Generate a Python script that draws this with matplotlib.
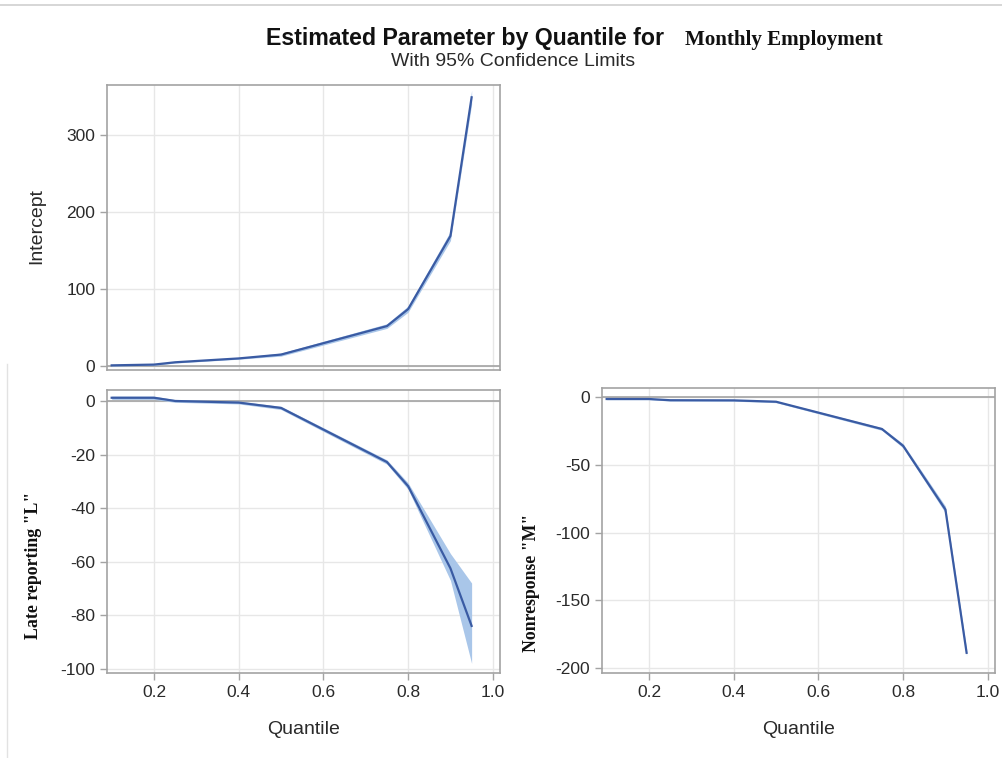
import matplotlib
matplotlib.use('Agg')
import matplotlib.pyplot as plt
from matplotlib.lines import Line2D

# quantile regression estimates
quantiles = [0.1, 0.2, 0.25, 0.4, 0.5, 0.75, 0.8, 0.9, 0.95]

intercept = [1, 2, 5, 10, 15, 52, 74, 169, 349]
intercept_lo = [0, 1, 4, 9, 13, 49, 70, 163, 340]
intercept_hi = [2, 3, 6, 11, 17, 55, 78, 175, 358]

late = [1.2, 1.2, 0.0, -0.6, -2.6, -22.8, -31.8, -62.5, -84.0]
late_lo = [0.6, 0.6, -0.5, -1.1, -3.2, -23.6, -33.0, -67.0, -98.0]
late_hi = [1.8, 1.8, 0.5, -0.1, -2.0, -22.0, -30.6, -57.0, -68.0]

nonresp = [-1.5, -1.5, -2.4, -2.5, -3.5, -23.6, -36.0, -83.0, -188.6]
nonresp_lo = [-2.0, -2.0, -3.0, -3.1, -4.2, -24.6, -37.5, -85.5, -191.0]
nonresp_hi = [-1.0, -1.0, -1.8, -1.9, -2.8, -22.6, -34.5, -80.5, -186.0]

xticks = [0.2, 0.4, 0.6, 0.8, 1.0]

LINE = '#3a5ba3'
BAND = '#a9c6e9'
SPINE = '#a3a3a3'
GRID = '#e7e7e7'
TXT = '#2a2a2a'
SANS = 'Liberation Sans'
SERIF = 'Liberation Serif'

plt.rcParams['font.family'] = SANS
plt.rcParams['axes.unicode_minus'] = False

fig = plt.figure(figsize=(10.03, 7.58), dpi=100)


def panel(rect, y, lo, hi, ylim, yticks, ylabel, serif_label, show_x, lab_xy):
  ax = fig.add_axes(rect)
  ax.fill_between(quantiles, lo, hi, color=BAND, linewidth=0, zorder=2)
  ax.plot(quantiles, y, color=LINE, linewidth=1.6, zorder=3)
  ax.axhline(0, color=SPINE, linewidth=1.2, zorder=1)
  ax.set_xlim(0.089, 1.017)
  ax.set_ylim(*ylim)
  ax.set_xticks(xticks)
  ax.set_yticks(yticks)
  ax.grid(True, color=GRID, linewidth=1.0, zorder=0)
  ax.set_axisbelow(True)
  for s in ax.spines.values():
    s.set_color(SPINE)
    s.set_linewidth(1.2)
  ax.tick_params(colors=SPINE, labelcolor=TXT, labelsize=12.5, length=5, width=1)
  if show_x:
    ax.set_xticklabels(['%.1f' % t for t in xticks])
    ax.set_xlabel('Quantile', fontsize=14, color=TXT)
    ax.xaxis.set_label_coords(0.5, -0.168)
  else:
    ax.tick_params(axis='x', length=0, labelbottom=False)
  if serif_label:
    ax.set_ylabel(ylabel, fontsize=12.8, color='#111111', family=SERIF,
                  fontweight='bold')
  else:
    ax.set_ylabel(ylabel, fontsize=14, color=TXT)
  ax.yaxis.set_label_coords(*lab_xy)
  return ax


panel([0.1067, 0.5119, 0.3918, 0.376], intercept, intercept_lo, intercept_hi,
      (-5, 365), [0, 100, 200, 300], 'Intercept', False, False, (-0.158, 0.505))
panel([0.1067, 0.1121, 0.3918, 0.3734], late, late_lo, late_hi,
      (-101.6, 4.1), [0, -20, -40, -60, -80, -100], 'Late reporting "L"', True, True,
      (-0.165, 0.382))
panel([0.6002, 0.1121, 0.3918, 0.376], nonresp, nonresp_lo, nonresp_hi,
      (-203.5, 6.6), [0, -50, -100, -150, -200], 'Nonresponse "M"', True, True,
      (-0.158, 0.316))

fig.text(0.668, 0.9406, 'Estimated Parameter by Quantile for ', ha='right',
         va='baseline', fontsize=16.7, fontweight='bold', color='#111111')
fig.text(0.683, 0.9406, 'Monthly Employment', ha='left', va='baseline',
         fontsize=15.1, fontweight='bold', family=SERIF, color='#111111')
fig.text(0.5115, 0.9125, 'With 95% Confidence Limits', ha='center',
         va='baseline', fontsize=14, color=TXT)

# faint screenshot frame
fig.add_artist(Line2D([0, 1], [0.9934, 0.9934], color='#d0d0d0', linewidth=1.2))
fig.add_artist(Line2D([0.007, 0.007], [0, 0.52], color='#e2e2e2', linewidth=1.0))

fig.savefig('out.png', dpi=100)
